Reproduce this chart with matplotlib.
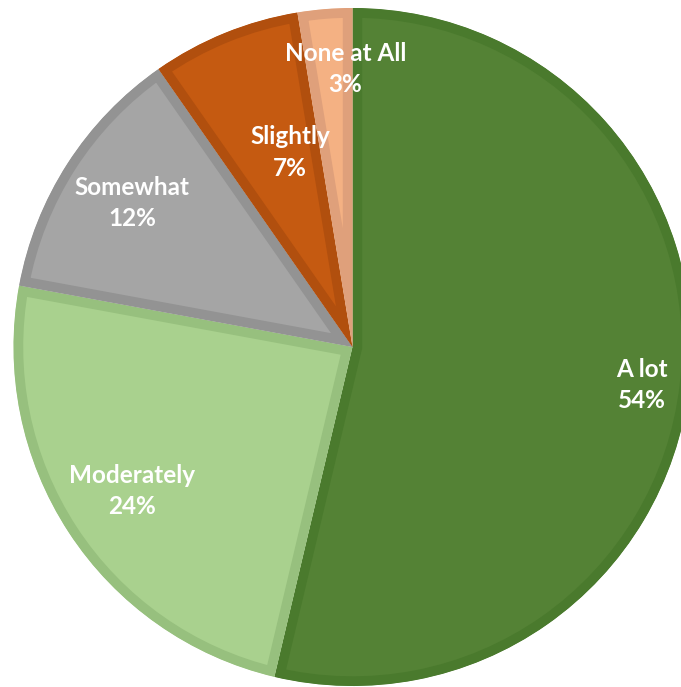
import numpy as np
import matplotlib
matplotlib.use('Agg')
import matplotlib.pyplot as plt
from matplotlib.patches import Wedge

# values (percent), clockwise from 12 o'clock
categories = ['A lot', 'Moderately', 'Somewhat', 'Slightly', 'None at All']
shares = [53.7, 24.2, 12.4, 7.1, 2.6]

fill_colors = ['#548235', '#a9d18e', '#a5a5a5', '#c55a11', '#f4b183']
edge_colors = ['#4a7a2d', '#97c07e', '#939393', '#b14f0e', '#dfa07b']

# label placement (fraction of radius, angle tweak in degrees)
label_radius = [0.86, 0.778, 0.777, 0.603, 0.82]
label_dangle = [-0.8, 0.0, -0.4, -4.3, -3.2]

W, H = 681, 687
cx, cy, R = 352.5, 347, 339

fig = plt.figure(figsize=(W / 100, H / 100), dpi=100)
ax = fig.add_axes([0, 0, 1, 1])

wedges, _ = ax.pie(shares, startangle=90, counterclock=False, radius=1,
                   colors=fill_colors, normalize=True)

# pie() resets limits, so fix them afterwards to put the pie where it sits in the picture
ax.set_xlim(-cx / R, (W - cx) / R)
ax.set_ylim(-(H - cy) / R, cy / R)
ax.set_aspect('auto')
ax.axis('off')

for w, ec in zip(wedges, edge_colors):
    # stroke clipped to a copy of the wedge -> border only on the inside
    clip = Wedge(w.center, w.r, w.theta1, w.theta2, transform=ax.transData)
    w.set_edgecolor(ec)
    w.set_linewidth(14)
    w.set_joinstyle('miter')
    w.set_clip_on(True)  # pie wedges come with clip_on=False
    w.set_clip_path(clip)

for w, name, val, rf, da in zip(wedges, categories, shares, label_radius, label_dangle):
    mid = np.deg2rad((w.theta1 + w.theta2) / 2 + da)
    ax.text(rf * np.cos(mid), rf * np.sin(mid), f'{name}\n{val:.0f}%',
            ha='center', va='center', color='white', fontsize=17.5,
            fontweight='bold', family=['Lato', 'DejaVu Sans'], linespacing=1.45)

fig.savefig('out.png', dpi=100)
